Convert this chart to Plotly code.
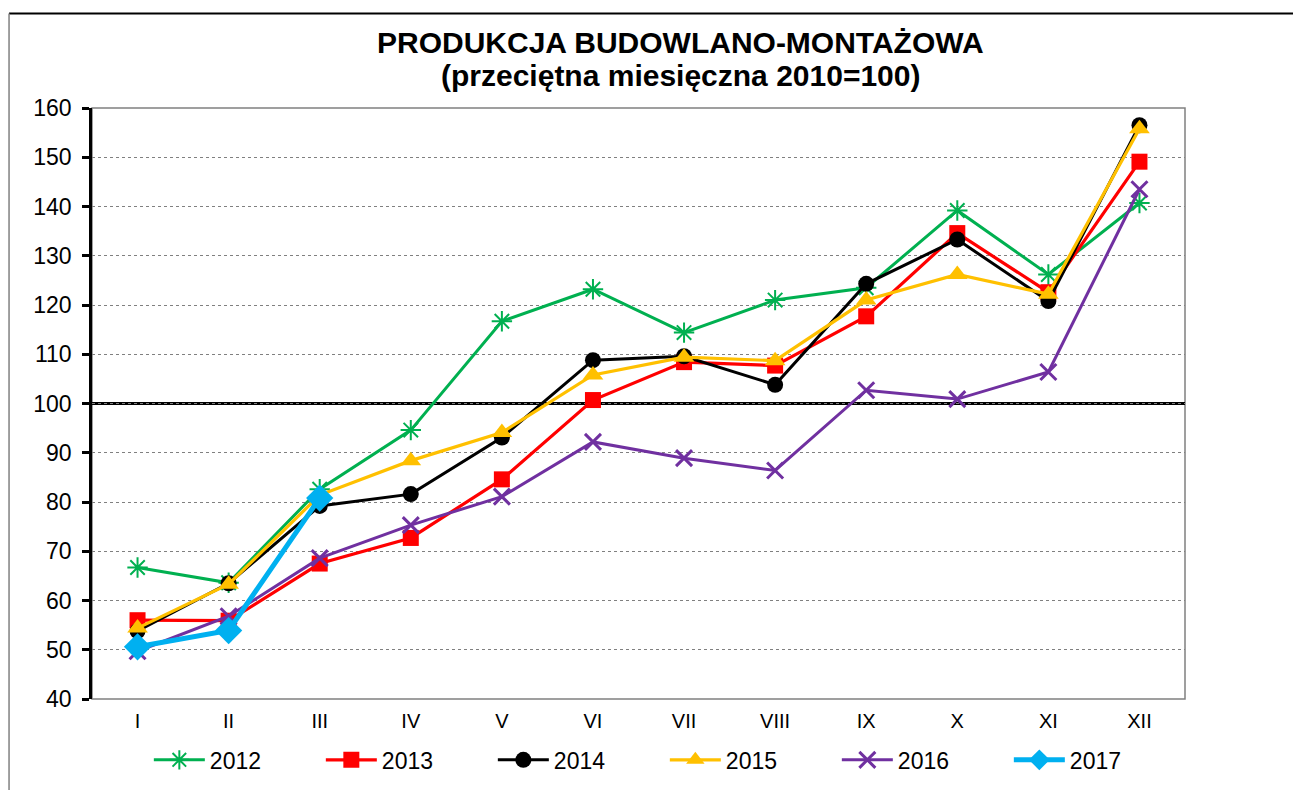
import plotly.graph_objects as go

months = ["I", "II", "III", "IV", "V", "VI", "VII", "VIII", "IX", "X", "XI", "XII"]
y2012 = [66.7, 63.6, 82.6, 94.6, 116.7, 123.2, 114.4, 121.0, 123.5, 139.2, 126.2, 140.7]
y2013 = [56.0, 55.9, 67.5, 72.7, 84.6, 100.7, 108.4, 107.7, 117.7, 134.6, 122.6, 149.1]
y2014 = [53.8, 63.5, 79.2, 81.6, 93.1, 108.8, 109.6, 103.8, 124.3, 133.3, 120.8, 156.5]
y2015 = [54.4, 63.3, 81.4, 88.4, 94.1, 105.8, 109.4, 108.7, 121.0, 126.2, 122.2, 155.8]
y2016 = [49.7, 56.8, 68.6, 75.3, 81.1, 92.2, 88.9, 86.4, 102.7, 100.9, 106.4, 143.5]
y2017 = [50.6, 53.9, 80.8]
years = ["2012", "2013", "2014", "2015", "2016", "2017"]

styles = {
    "2012": dict(color="#00B050", symbol="asterisk-open", size=17, lw=3, mlw=2),
    "2013": dict(color="#FF0000", symbol="square", size=16, lw=3.2, mlw=0),
    "2014": dict(color="#000000", symbol="circle", size=16, lw=3, mlw=0),
    "2015": dict(color="#FFC000", symbol="triangle-up", size=18, lw=3.2, mlw=0),
    "2016": dict(color="#7030A0", symbol="x-thin-open", size=16, lw=3, mlw=3),
    "2017": dict(color="#00B0F0", symbol="diamond", size=21, lw=5, mlw=0),
}
data = {"2012": y2012, "2013": y2013, "2014": y2014, "2015": y2015, "2016": y2016, "2017": y2017}

fig = go.Figure()
for yr in years:
    s = styles[yr]
    vals = data[yr]
    fig.add_trace(go.Scatter(
        x=months[:len(vals)], y=vals, name=yr, mode="lines+markers",
        line=dict(color=s["color"], width=s["lw"]),
        marker=dict(symbol=s["symbol"], size=s["size"], color=s["color"],
                    line=dict(color=s["color"], width=s["mlw"])),
    ))

font_family = "Liberation Sans, Arial, sans-serif"
fig.update_layout(
    width=1293, height=790,
    margin=dict(l=92, r=108, t=108, b=91, autoexpand=False),
    paper_bgcolor="white", plot_bgcolor="white",
    font=dict(family=font_family, color="black", size=20),
    showlegend=True,
    legend=dict(orientation="h", x=0.052, xanchor="left", xref="paper",
                y=-0.103, yanchor="middle", font=dict(size=23),
                entrywidth=106, itemwidth=51, tracegroupgap=0),
    xaxis=dict(type="category", categoryorder="array", categoryarray=months,
               range=[-0.5, 11.5], showgrid=False, ticks="", showline=False,
               tickfont=dict(size=20), ticklabelstandoff=8),
    yaxis=dict(range=[40, 160], dtick=10, tick0=40, showgrid=True,
               gridcolor="#808080", griddash="dot", gridwidth=1,
               showline=True, linecolor="black", linewidth=2.5,
               ticks="outside", ticklen=7, tickwidth=2.5, tickcolor="black",
               tickfont=dict(size=23), zeroline=False, ticklabelstandoff=6),
)

title_lines = ["<b>PRODUKCJA BUDOWLANO-MONTAŻOWA</b>", "<b>(przeciętna miesięczna 2010=100)</b>"]
title_y = [42, 75]
for txt, py in zip(title_lines, title_y):
    fig.add_annotation(text=txt, xref="paper", yref="paper",
                       x=(680 - 92) / 1093, y=(699 - py) / 591.5,
                       xanchor="center", yanchor="middle", showarrow=False,
                       font=dict(size=30, family=font_family, color="black"))

shapes = [
    dict(type="rect", xref="paper", yref="paper", x0=0, x1=1, y0=0, y1=1,
         line=dict(color="#808080", width=1.5), layer="below"),
    dict(type="line", xref="paper", yref="y", x0=0, x1=1, y0=100, y1=100,
         line=dict(color="black", width=3), layer="between"),
    dict(type="line", xref="paper", yref="paper", x0=-0.0759, x1=1.2, y0=1.16, y1=1.16,
         line=dict(color="black", width=2)),
    dict(type="line", xref="paper", yref="paper", x0=-0.0759, x1=-0.0759, y0=1.16, y1=-0.2,
         line=dict(color="#808080", width=1.5)),
]
fig.update_layout(shapes=shapes)

fig.write_html("out.html", config={"displayModeBar": False},
               post_script="document.body.style.margin='0';document.body.style.overflow='hidden';")
